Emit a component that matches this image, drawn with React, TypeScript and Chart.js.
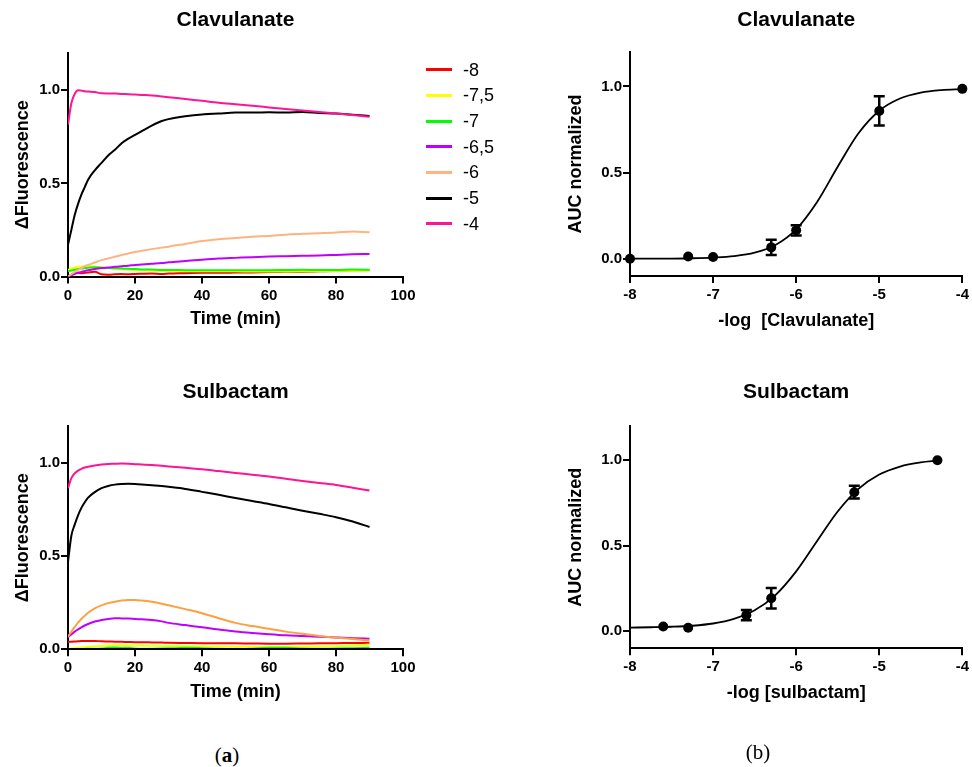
import React, { useEffect, useRef } from "react";
import { Chart, registerables } from "chart.js";

Chart.register(...registerables);

const FONT = "'Liberation Sans', Arial, Helvetica, sans-serif";
const SERIF = "'Liberation Serif', 'Times New Roman', serif";

// ---------- time-course data (minutes) ----------
const TIME = [0, 1, 2, 3, 4, 5, 6, 8, 10, 12, 14, 16, 18, 20, 22, 25, 28, 30, 35, 40, 45, 50, 55, 60, 65, 70, 75, 80, 85, 90];

const LEGEND_LABELS = ["-8", "-7,5", "-7", "-6,5", "-6", "-5", "-4"];
const CLAV_COLORS = ["#FF0000", "#FFFF00", "#00FF00", "#C000FF", "#FFB380", "#000000", "#FF1493"];
const SULB_COLORS = ["#FF0000", "#FFFF00", "#00FF00", "#C000FF", "#FFA040", "#000000", "#FF1493"];

// Clavulanate
const CLAV_M8 = [0.0, 0.008, 0.015, 0.02, 0.018, 0.02, 0.022, 0.025, 0.012, 0.01, 0.012, 0.013, 0.012, 0.014, 0.015, 0.016, 0.014, 0.016, 0.018, 0.02, 0.02, 0.021, 0.022, 0.024, 0.025, 0.026, 0.028, 0.03, 0.033, 0.035];
const CLAV_M75 = [0.035, 0.042, 0.048, 0.052, 0.054, 0.055, 0.055, 0.053, 0.05, 0.045, 0.042, 0.04, 0.038, 0.035, 0.034, 0.032, 0.031, 0.03, 0.029, 0.028, 0.028, 0.028, 0.027, 0.027, 0.027, 0.028, 0.029, 0.03, 0.031, 0.032];
const CLAV_M7 = [0.028, 0.032, 0.036, 0.04, 0.043, 0.045, 0.047, 0.05, 0.047, 0.045, 0.044, 0.043, 0.041, 0.04, 0.038, 0.037, 0.035, 0.035, 0.034, 0.034, 0.033, 0.033, 0.034, 0.034, 0.035, 0.036, 0.035, 0.035, 0.038, 0.036];
const CLAV_M65 = [0.0, 0.008, 0.015, 0.02, 0.025, 0.03, 0.033, 0.04, 0.045, 0.048, 0.052, 0.055, 0.058, 0.062, 0.064, 0.068, 0.072, 0.076, 0.083, 0.09, 0.096, 0.1, 0.104, 0.107, 0.109, 0.111, 0.113, 0.116, 0.119, 0.121];
const CLAV_M6 = [0.0, 0.012, 0.025, 0.035, 0.045, 0.055, 0.062, 0.075, 0.088, 0.097, 0.106, 0.115, 0.124, 0.132, 0.138, 0.147, 0.155, 0.16, 0.175, 0.19, 0.2, 0.207, 0.213, 0.218, 0.224, 0.229, 0.232, 0.236, 0.242, 0.237];
const CLAV_M5 = [0.17, 0.25, 0.33, 0.39, 0.44, 0.48, 0.52, 0.57, 0.61, 0.65, 0.68, 0.715, 0.74, 0.76, 0.78, 0.81, 0.835, 0.845, 0.86, 0.87, 0.875, 0.88, 0.88, 0.882, 0.88, 0.883, 0.878, 0.875, 0.868, 0.862];
const CLAV_M4 = [0.815, 0.93, 0.98, 1.0, 0.998, 0.995, 0.993, 0.99, 0.984, 0.983, 0.982, 0.98, 0.979, 0.977, 0.975, 0.972, 0.967, 0.963, 0.953, 0.943, 0.933, 0.925, 0.917, 0.908, 0.899, 0.891, 0.883, 0.875, 0.867, 0.858];

// Sulbactam
const SULB_M8 = [0.04, 0.041, 0.042, 0.043, 0.044, 0.044, 0.044, 0.045, 0.043, 0.042, 0.041, 0.04, 0.039, 0.038, 0.038, 0.037, 0.036, 0.035, 0.034, 0.033, 0.033, 0.032, 0.031, 0.03, 0.03, 0.031, 0.032, 0.033, 0.034, 0.035];
const SULB_M75 = [0.002, 0.004, 0.006, 0.008, 0.01, 0.012, 0.014, 0.017, 0.019, 0.021, 0.022, 0.022, 0.021, 0.02, 0.02, 0.019, 0.018, 0.018, 0.017, 0.016, 0.015, 0.013, 0.012, 0.012, 0.013, 0.014, 0.015, 0.017, 0.02, 0.024];
const SULB_M7 = [0.001, 0.001, 0.002, 0.002, 0.002, 0.002, 0.003, 0.003, 0.004, 0.008, 0.01, 0.007, 0.009, 0.004, 0.003, 0.003, 0.004, 0.005, 0.008, 0.006, 0.003, 0.002, 0.003, 0.008, 0.008, 0.004, 0.003, 0.004, 0.006, 0.008];
const SULB_M65 = [0.065, 0.08, 0.095, 0.107, 0.118, 0.128, 0.136, 0.149, 0.157, 0.163, 0.167, 0.166, 0.165, 0.163, 0.161, 0.158, 0.15, 0.142, 0.13, 0.118, 0.106, 0.096, 0.088, 0.081, 0.075, 0.071, 0.067, 0.064, 0.06, 0.057];
const SULB_M6 = [0.068, 0.095, 0.12, 0.143, 0.163, 0.18, 0.196, 0.22, 0.236, 0.248, 0.256, 0.262, 0.265, 0.265, 0.262, 0.255, 0.245, 0.237, 0.216, 0.194, 0.167, 0.142, 0.125, 0.11, 0.095, 0.083, 0.072, 0.063, 0.055, 0.048];
const SULB_M5 = [0.47, 0.61, 0.67, 0.72, 0.76, 0.79, 0.815, 0.845, 0.866, 0.878, 0.885, 0.888, 0.889, 0.888, 0.886, 0.882, 0.877, 0.873, 0.862, 0.846, 0.83, 0.813, 0.797, 0.781, 0.763, 0.745, 0.728, 0.71, 0.687, 0.657];
const SULB_M4 = [0.866, 0.92, 0.945, 0.96, 0.97, 0.977, 0.981, 0.988, 0.993, 0.996, 0.997, 0.998, 0.997, 0.995, 0.993, 0.99, 0.986, 0.983, 0.975, 0.968, 0.958, 0.948, 0.938, 0.928, 0.916, 0.905, 0.894, 0.883, 0.868, 0.853];

// ---------- dose-response data ----------
const CLAV_LOGC = [-8, -7.3, -7, -6.3, -6, -5, -4];
const CLAV_AUC = [0.0, 0.013, 0.01, 0.066, 0.165, 0.858, 0.986];
const CLAV_AUC_ERR = [0, 0, 0, 0.044, 0.03, 0.085, 0];
const CLAV_FIT_X = [-8, -7.75, -7.5, -7.25, -7, -6.75, -6.5, -6.25, -6, -5.75, -5.5, -5.25, -5, -4.75, -4.5, -4.25, -4];
const CLAV_FIT_Y = [0.0, 0.001, 0.001, 0.003, 0.007, 0.015, 0.035, 0.08, 0.171, 0.328, 0.534, 0.728, 0.859, 0.93, 0.964, 0.979, 0.985];

const SULB_LOGC = [-7.6, -7.3, -6.6, -6.3, -5.3, -4.3];
const SULB_AUC = [0.027, 0.02, 0.094, 0.193, 0.813, 1.0];
const SULB_AUC_ERR = [0, 0, 0.03, 0.06, 0.037, 0];
const SULB_FIT_X = [-8, -7.75, -7.5, -7.25, -7, -6.75, -6.5, -6.25, -6, -5.75, -5.5, -5.25, -5, -4.75, -4.5, -4.3];
const SULB_FIT_Y = [0.021, 0.023, 0.026, 0.032, 0.045, 0.072, 0.122, 0.211, 0.35, 0.526, 0.7, 0.832, 0.916, 0.963, 0.987, 0.997];

const Y_TICKS = [0, 0.5, 1.0];
const TIME_TICK_STEP = 20;
const LOG_TICK_STEP = 1;

// ---------- helpers ----------
const tickFont = { family: FONT, size: 15, weight: "bold" as const };
const axisTitleFont = { family: FONT, size: 18, weight: "bold" as const };
const gridOpts = {
  display: true,
  drawOnChartArea: false,
  drawTicks: true,
  tickLength: 7,
  tickWidth: 2,
  tickColor: "#000",
  color: "#000",
  lineWidth: 2,
};

function xScale(min: number, max: number, step: number, label: string, padBottom: number, height: number, borderZ = 0) {
  return {
    type: "linear",
    position: "bottom",
    min,
    max,
    ticks: {
      stepSize: step,
      color: "#000",
      font: tickFont,
      padding: 3,
      maxRotation: 0,
      autoSkip: false,
      callback: (v: any) => String(v),
    },
    grid: gridOpts,
    border: { display: true, color: "#000", width: 2, z: borderZ },
    title: { display: true, text: label, color: "#000", font: axisTitleFont, padding: { top: 0, bottom: padBottom } },
    afterFit: (s: any) => {
      s.height = height;
    },
  };
}

function yScale(min: number, max: number, label: string, padLeft: number, width: number) {
  return {
    type: "linear",
    position: "left",
    min,
    max,
    afterBuildTicks: (s: any) => {
      s.ticks = Y_TICKS.map((v) => ({ value: v }));
    },
    ticks: {
      color: "#000",
      font: tickFont,
      padding: 1,
      callback: (v: any) => Number(v).toFixed(1),
    },
    grid: gridOpts,
    border: { display: true, color: "#000", width: 2 },
    title: { display: true, text: label, color: "#000", font: axisTitleFont, padding: { top: padLeft, bottom: 0 } },
    afterFit: (s: any) => {
      s.width = width;
    },
  };
}

type Geom = {
  yWidth: number;
  yTitlePad: number;
  xHeight: number;
  xTitlePad: number;
  padRight: number;
  titleTop: number;
  titleBottom: number;
};

function titleOpts(text: string, g: Geom) {
  return {
    display: true,
    text,
    color: "#000",
    font: { family: FONT, size: 21, weight: "bold" as const },
    fullSize: false,
    padding: { top: g.titleTop, bottom: g.titleBottom },
  };
}

function timeCourseConfig(title: string, series: number[][], colors: string[], g: Geom, borderZ: number) {
  return {
    type: "line",
    data: {
      datasets: series.map((vals, i) => ({
        label: LEGEND_LABELS[i],
        data: TIME.map((t, k) => ({ x: t, y: vals[k] })),
        borderColor: colors[i],
        backgroundColor: colors[i],
        borderWidth: 2,
        pointRadius: 0,
        cubicInterpolationMode: "monotone",
        order: series.length - i,
      })),
    },
    options: {
      responsive: false,
      animation: false,
      devicePixelRatio: 1,
      layout: { padding: { left: 0, right: g.padRight, top: 0, bottom: 0 } },
      plugins: {
        legend: { display: false },
        tooltip: { enabled: false },
        title: titleOpts(title, g),
      },
      scales: {
        x: xScale(0, 100, TIME_TICK_STEP, "Time (min)", g.xTitlePad, g.xHeight, borderZ),
        y: yScale(0, 1.2, "\u0394Fluorescence", g.yTitlePad, g.yWidth),
      },
    },
  };
}

function errorBarPlugin(xs: number[], ys: number[], es: number[]) {
  return {
    id: "errorBars",
    afterDatasetsDraw(chart: any) {
      const { ctx, scales } = chart;
      const xS = scales.x;
      const yS = scales.y;
      ctx.save();
      ctx.strokeStyle = "#000";
      ctx.lineWidth = 2.5;
      xs.forEach((xv, i) => {
        const e = es[i];
        if (!e) return;
        const px = xS.getPixelForValue(xv);
        const top = yS.getPixelForValue(ys[i] + e);
        const bot = yS.getPixelForValue(ys[i] - e);
        ctx.beginPath();
        ctx.moveTo(px, top);
        ctx.lineTo(px, bot);
        ctx.moveTo(px - 5.5, top);
        ctx.lineTo(px + 5.5, top);
        ctx.moveTo(px - 5.5, bot);
        ctx.lineTo(px + 5.5, bot);
        ctx.stroke();
      });
      ctx.restore();
    },
  };
}

function doseConfig(
  title: string,
  xLabel: string,
  logc: number[],
  auc: number[],
  err: number[],
  fitX: number[],
  fitY: number[],
  g: Geom
) {
  return {
    type: "scatter",
    data: {
      datasets: [
        {
          label: "AUC",
          data: logc.map((x, i) => ({ x, y: auc[i] })),
          pointRadius: 5,
          pointBorderWidth: 0,
          backgroundColor: "#000",
          borderColor: "#000",
          showLine: false,
          clip: false,
          order: 0,
        },
        {
          label: "fit",
          data: fitX.map((x, i) => ({ x, y: fitY[i] })),
          showLine: true,
          pointRadius: 0,
          borderColor: "#000",
          borderWidth: 1.8,
          cubicInterpolationMode: "monotone",
          clip: false,
          order: 1,
        },
      ],
    },
    options: {
      responsive: false,
      animation: false,
      devicePixelRatio: 1,
      layout: { padding: { left: 0, right: g.padRight, top: 0, bottom: 0 } },
      plugins: {
        legend: { display: false },
        tooltip: { enabled: false },
        title: titleOpts(title, g),
      },
      scales: {
        x: xScale(-8, -4, LOG_TICK_STEP, xLabel, g.xTitlePad, g.xHeight),
        y: yScale(-0.1, 1.2, "AUC normalized", g.yTitlePad, g.yWidth),
      },
    },
    plugins: [errorBarPlugin(logc, auc, err)],
  };
}

function ChartPanel(props: { left: number; top: number; width: number; height: number; build: () => any }) {
  const ref = useRef<HTMLCanvasElement | null>(null);
  useEffect(() => {
    const chart = new Chart(ref.current as HTMLCanvasElement, props.build());
    return () => chart.destroy();
  }, []);
  return (
    <canvas
      ref={ref}
      width={props.width}
      height={props.height}
      style={{ position: "absolute", left: props.left, top: props.top, width: props.width, height: props.height, display: "block" }}
    />
  );
}

const GEOM_TL: Geom = { yWidth: 68, yTitlePad: 12, xHeight: 93.5, xTitlePad: 40, padRight: 83, titleTop: 8, titleBottom: 19.8 };
const GEOM_TR: Geom = { yWidth: 144, yTitlePad: 79.7, xHeight: 94, xTitlePad: 38.5, padRight: 7, titleTop: 8, titleBottom: 18.8 };
const GEOM_BL: Geom = { yWidth: 68, yTitlePad: 12, xHeight: 90.7, xTitlePad: 37.2, padRight: 83, titleTop: 9.4, titleBottom: 21.4 };
const GEOM_BR: Geom = { yWidth: 144, yTitlePad: 79.7, xHeight: 91.7, xTitlePad: 36.2, padRight: 7, titleTop: 9.4, titleBottom: 21.4 };

function Legend() {
  return (
    <div style={{ position: "absolute", left: 426, top: 57, fontFamily: FONT, fontSize: 18, color: "#000" }}>
      {LEGEND_LABELS.map((lab, i) => (
        <div key={lab} style={{ display: "flex", alignItems: "center", height: 25.67, whiteSpace: "nowrap" }}>
          <div style={{ width: 26, height: 3, background: CLAV_COLORS[i], marginRight: 11 }} />
          <span style={{ lineHeight: "20px" }}>{lab}</span>
        </div>
      ))}
    </div>
  );
}

export default function App() {
  return (
    <div style={{ position: "absolute", left: 0, top: 0, width: 972, height: 767, background: "#fff", overflow: "hidden" }}>
      <ChartPanel
        left={0}
        top={0}
        width={486}
        height={370}
        build={() =>
          timeCourseConfig("Clavulanate", [CLAV_M8, CLAV_M75, CLAV_M7, CLAV_M65, CLAV_M6, CLAV_M5, CLAV_M4], CLAV_COLORS, GEOM_TL, 0)
        }
      />
      <ChartPanel
        left={486}
        top={0}
        width={486}
        height={370}
        build={() =>
          doseConfig("Clavulanate", "-log  [Clavulanate]", CLAV_LOGC, CLAV_AUC, CLAV_AUC_ERR, CLAV_FIT_X, CLAV_FIT_Y, GEOM_TR)
        }
      />
      <ChartPanel
        left={0}
        top={370}
        width={486}
        height={370}
        build={() =>
          timeCourseConfig("Sulbactam", [SULB_M8, SULB_M75, SULB_M7, SULB_M65, SULB_M6, SULB_M5, SULB_M4], SULB_COLORS, GEOM_BL, 1)
        }
      />
      <ChartPanel
        left={486}
        top={370}
        width={486}
        height={370}
        build={() =>
          doseConfig("Sulbactam", "-log [sulbactam]", SULB_LOGC, SULB_AUC, SULB_AUC_ERR, SULB_FIT_X, SULB_FIT_Y, GEOM_BR)
        }
      />
      <Legend />
      <div
        style={{
          position: "absolute",
          left: 227,
          top: 755,
          transform: "translate(-50%, -50%)",
          fontFamily: SERIF,
          fontSize: 21,
          lineHeight: 1,
          whiteSpace: "nowrap",
        }}
      >
        (<b>a</b>)
      </div>
      <div
        style={{
          position: "absolute",
          left: 758,
          top: 752,
          transform: "translate(-50%, -50%)",
          fontFamily: SERIF,
          fontSize: 21,
          lineHeight: 1,
          whiteSpace: "nowrap",
        }}
      >
        (b)
      </div>
    </div>
  );
}
